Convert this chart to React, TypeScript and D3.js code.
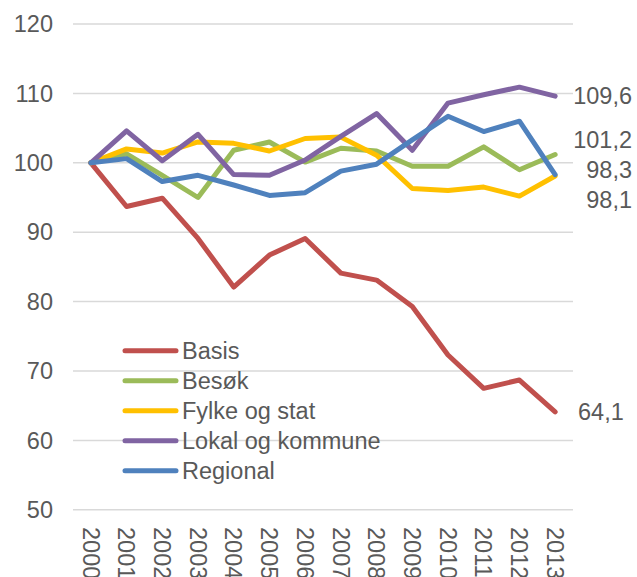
import React from "react";
import * as d3 from "d3";

const years = ["2000","2001","2002","2003","2004","2005","2006","2007","2008","2009","2010","2011","2012","2013"];
const basis = [100, 93.7, 94.9, 89.1, 82.1, 86.7, 89.1, 84.1, 83.1, 79.3, 72.3, 67.5, 68.7, 64.1];
const besok = [100, 101.3, 98.2, 95.0, 101.8, 103.0, 100.1, 102.1, 101.7, 99.5, 99.5, 102.3, 99.0, 101.2];
const fylke = [100, 102.0, 101.4, 103.0, 102.8, 101.7, 103.5, 103.7, 101.1, 96.3, 96.0, 96.5, 95.2, 98.1];
const lokal = [100, 104.6, 100.3, 104.1, 98.3, 98.2, 100.4, 103.8, 107.1, 101.8, 108.6, 109.8, 110.9, 109.6];
const regional = [100, 100.6, 97.3, 98.2, 96.8, 95.3, 95.7, 98.8, 99.8, 103.3, 106.7, 104.5, 106.0, 98.3];
const yTicks = [50, 60, 70, 80, 90, 100, 110, 120];

const seriesNames = ["Basis", "Besøk", "Fylke og stat", "Lokal og kommune", "Regional"];
const seriesValues = [basis, besok, fylke, lokal, regional];
const seriesColors = ["#C0504D", "#9BBB59", "#FFC000", "#8064A2", "#4F81BD"];
// end-label placement (style only): [x anchor position, y position override or null, anchor]
const labelPlace: [number, number | null, string][] = [
  [578, null, "start"],
  [632, 140, "end"],
  [632, 200, "end"],
  [632, null, "end"],
  [632, 170, "end"],
];

const FONT = "'Liberation Sans', Arial, sans-serif";
const TEXT = "#595959";
const FS = 23.5;

export default function App() {
  const W = 637, H = 577;
  const left = 73, right = 573, top = 24, bottom = 509.8;
  const x = d3.scaleBand<string>().domain(years).range([left, right]);
  const cx = (i: number) => (x(years[i]) as number) + x.bandwidth() / 2;
  const y = d3.scaleLinear().domain([50, 120]).range([bottom, top]);
  const fmt = (v: number) => v.toFixed(1).replace(".", ",");

  return (
    <svg width={W} height={H} style={{ position: "absolute", left: 0, top: 0, background: "#fff" }} fontFamily={FONT}>
      {yTicks.map((t) => (
        <g key={t}>
          <line x1={left} x2={right} y1={y(t)} y2={y(t)} stroke="#D9D9D9" strokeWidth={1.5} />
          <text x={53} y={y(t)} dy="0.35em" textAnchor="end" fontSize={FS} fill={TEXT}>{t}</text>
        </g>
      ))}
      {years.map((yr, i) => (
        <text key={yr} transform={`translate(${cx(i)},${527}) rotate(90)`} dy="0.35em" textAnchor="start" fontSize={FS} fill={TEXT}>{yr}</text>
      ))}
      {seriesValues.map((vals, s) => {
        const line = d3.line<number>().x((_, i) => cx(i)).y((v) => y(v));
        return (
          <path key={s} d={line(vals) || ""} fill="none" stroke={seriesColors[s]} strokeWidth={5} strokeLinejoin="round" strokeLinecap="round" />
        );
      })}
      {seriesValues.map((vals, s) => {
        const last = vals[vals.length - 1];
        const [lx, ly, anchor] = labelPlace[s];
        return (
          <text key={s} x={lx} y={ly === null ? y(last) : ly} dy="0.35em" textAnchor={anchor} fontSize={FS} fill={TEXT}>{fmt(last)}</text>
        );
      })}
      {seriesNames.map((n, s) => {
        const ly = 350.7 + s * 30;
        return (
          <g key={n}>
            <line x1={125} x2={176} y1={ly} y2={ly} stroke={seriesColors[s]} strokeWidth={5} strokeLinecap="round" />
            <text x={182} y={ly} dy="0.35em" fontSize={FS} fill={TEXT}>{n}</text>
          </g>
        );
      })}
    </svg>
  );
}
